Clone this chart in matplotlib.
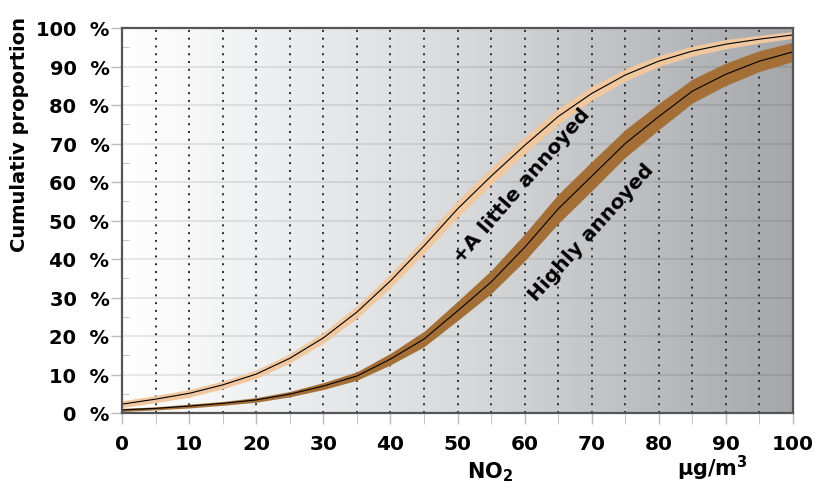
import matplotlib
matplotlib.use("Agg")
import matplotlib.pyplot as plt
import numpy as np
from matplotlib.colors import LinearSegmentedColormap

# NO2 concentration (ug/m3)
no2 = [0, 5, 10, 15, 20, 25, 30, 35, 40, 45, 50, 55, 60, 65, 70, 75, 80, 85, 90, 95, 100]

# +A little annoyed: cumulative proportion (%) and band half-width
little = [2.3, 3.6, 5.1, 7.3, 10.1, 14.2, 19.5, 26.2, 34.3, 43.4, 53.0, 61.5, 69.5, 77.0, 83.0,
          87.8, 91.4, 94.0, 95.8, 97.1, 98.2]
little_hw = [0.9, 0.9, 1.0, 1.0, 1.1, 1.2, 1.4, 1.6, 1.8, 2.0, 2.2, 2.2, 2.2, 2.0, 1.8,
             1.6, 1.4, 1.3, 1.2, 1.0, 0.9]

# Highly annoyed
highly = [0.8, 1.2, 1.8, 2.5, 3.4, 4.9, 7.0, 9.6, 14.0, 19.2, 26.5, 34.0, 43.0, 53.0, 61.5,
          70.0, 77.0, 83.6, 88.0, 91.4, 93.8]
highly_hw = [0.4, 0.4, 0.5, 0.5, 0.6, 0.7, 0.9, 1.1, 1.5, 2.0, 2.5, 3.0, 3.5, 3.8, 3.8,
             3.6, 3.4, 3.1, 2.9, 2.7, 2.5]

ytick_vals = list(range(0, 101, 10))
ytick_labels = [f"{v}  %" for v in ytick_vals]
xtick_vals = list(range(0, 101, 10))

x = np.array(no2)
fig = plt.figure(figsize=(8.26, 4.89), dpi=100)
ax = fig.add_axes([122/826, 75/489, (793-122)/826, (414-29)/489])

# background gradient white -> grey
cmap = LinearSegmentedColormap.from_list("bg", ["#ffffff", "#d8dadc", "#a5a7aa"])
ax.imshow(np.linspace(0, 1, 256).reshape(1, -1), cmap=cmap, aspect="auto",
          extent=[0, 100, 0, 100], zorder=0)

# grid
for yv in range(10, 100, 10):
    ax.axhline(yv, color="black", alpha=0.09, lw=1.3, zorder=1)
for xv in range(5, 100, 5):
    ax.axvline(xv, color="#2a2a2a", lw=1.4, ls=(0, (1, 3)), zorder=1)

# bands and centre lines
lo = np.array(little); lh = np.array(little_hw)
ax.fill_between(x, lo - lh, lo + lh, color="#f0c79e", lw=0, zorder=2)
ax.plot(x, lo, color="black", lw=0.8, zorder=3)
hi = np.array(highly); hh = np.array(highly_hw)
ax.fill_between(x, hi - hh, hi + hh, color="#a46f37", lw=0, zorder=2)
ax.plot(x, hi, color="black", lw=0.8, zorder=3)

ax.set_xlim(0, 100)
ax.set_ylim(0, 100)

bold = dict(family="DejaVu Sans", fontweight="bold")
ax.set_yticks(ytick_vals)
ax.set_yticklabels(ytick_labels, fontsize=14, **bold)
ax.set_xticks(xtick_vals)
ax.set_xticklabels([str(v) for v in xtick_vals], fontsize=14.5, **bold)
ax.set_xticks(range(5, 100, 10), minor=True)
ax.set_yticks(range(5, 100, 10), minor=True)
ax.tick_params(axis="both", which="major", direction="out", length=8, color="#bbbbbb", width=1)
ax.tick_params(axis="x", which="major", pad=7)
ax.tick_params(axis="y", which="major", pad=1)
ax.tick_params(axis="y", which="minor", direction="in", length=5, color="#bbbbbb")
ax.tick_params(axis="x", which="minor", direction="out", length=8, color="#bbbbbb")

for s in ax.spines.values():
    s.set_color("#555555")
    s.set_linewidth(1.6)
    s.set_zorder(5)

# axis labels
fig.text(20/826, 1 - 134/489, "Cumulativ proportion", rotation=90, ha="center", va="center",
         fontsize=14, **bold)
fig.text(490/826, 1 - 472/489, "NO$_\\mathbf{2}$", ha="center", va="center", fontsize=15, **bold)
fig.text(712/826, 1 - 468/489, "µg/m$^\\mathbf{3}$", ha="center", va="center", fontsize=15, **bold)

# curve labels
ax.text(59.6, 59.3, "+A little annoyed", rotation=49, ha="center", va="center",
        fontsize=14.5, rotation_mode="anchor", **bold)
ax.text(69.9, 47.0, "Highly annoyed", rotation=48, ha="center", va="center",
        fontsize=14.5, rotation_mode="anchor", **bold)

fig.savefig("out.png", dpi=100)
